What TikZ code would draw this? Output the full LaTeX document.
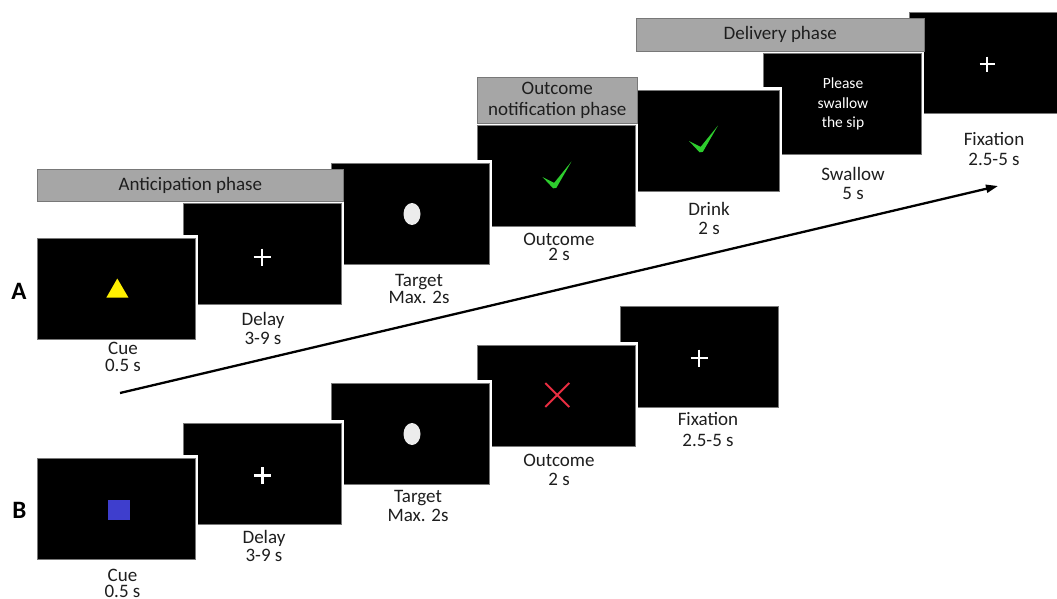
\documentclass[tikz,border=0pt]{standalone}
\usepackage{fontspec}
\setmainfont{Carlito}
\usetikzlibrary{arrows.meta,calc}

\definecolor{bargray}{RGB}{166,166,166}
\definecolor{edgegray}{RGB}{120,120,120}
\definecolor{cueyellow}{RGB}{255,240,0}
\definecolor{cueblue}{RGB}{62,62,205}
\definecolor{hitgreen}{RGB}{45,205,45}
\definecolor{missred}{RGB}{232,45,65}
\definecolor{dotgray}{RGB}{236,236,236}
\definecolor{inkgray}{RGB}{30,30,30}

\begin{document}
\begin{tikzpicture}[x=1pt,y=-1pt,
  screen/.style={rectangle, anchor=north west, fill=black, draw=edgegray,
    line width=0.8pt, minimum width=158pt, minimum height=101pt, inner sep=0pt,
    preaction={draw=white, line width=6pt}},
  phasebar/.style={rectangle, anchor=north west, fill=bargray, draw=edgegray,
    line width=0.6pt, inner sep=0pt, align=center, text=inkgray,
    font=\fontsize{19}{21.5}\selectfont},
  % anchored at the baseline of the last line
  caption/.style={anchor=base, align=center, inner sep=0pt, text=inkgray,
    font=\fontsize{19}{#1}\selectfont},
  rowlabel/.style={inner sep=0pt, text=black, font=\fontsize{25}{25}\selectfont\bfseries},
  plus/.pic={\draw[white, line width=2.7pt] (-8.5,0) -- (8.5,0) (0,-8.5) -- (0,8.5);},
  smallplus/.pic={\draw[white, line width=2.5pt] (-7.5,0) -- (7.5,0) (0,-7.5) -- (0,7.5);},
  tick/.pic={\fill[hitgreen] (-12,-10.5) -- (-0.4,-4.6) -- (17,-26) -- (1.8,0.4)
    -- (-1.4,0.8) -- cycle;},
  miss/.pic={\draw[missred, line width=2pt] (-12,-12) -- (12,12) (-12,12) -- (12,-12);}
]
\clip (0,0) rectangle (1057,598);
\fill[white] (0,0) rectangle (1057,598);

% row A screens, back to front
\node[screen] (fixA) at (909,12) {};
\node[screen] (swallowA) at (763,53) {};
\node[screen] (drinkA) at (621,90) {};
\node[screen] (outA) at (477,125) {};
\node[screen] (tgtA) at (331,163) {};
\node[screen] (delA) at (183,203) {};
\node[screen] (cueA) at (37,238) {};

% row B screens, back to front
\node[screen] (fixB) at (620,306) {};
\node[screen] (outB) at (477,345) {};
\node[screen] (tgtB) at (331,383) {};
\node[screen] (delB) at (183,423) {};
\node[screen] (cueB) at (37,458) {};

% phase bars
\node[phasebar, minimum width=306pt, minimum height=32pt] (antBar) at (37,169) {Anticipation phase};
\node[phasebar, minimum width=160pt, minimum height=46pt] (outBar) at (477,77) {Outcome\\notification phase};
\node[phasebar, minimum width=288pt, minimum height=33pt] (delivBar) at (636,18) {Delivery phase};

% stimuli, row A
\fill[cueyellow] (117.3,278.5) -- (128.5,297.7) -- (106.3,297.7) -- cycle;
\pic at (262,257) {plus};
\fill[dotgray] (412,214) ellipse [x radius=8.5, y radius=11];
\pic at (554.5,187.5) {tick};
\pic at (701,151.5) {tick};
\node[text=white, align=center, inner sep=0pt, anchor=base,
  font=\fontsize{15.5}{19.5}\selectfont] (sipText) at (843,127.7) {Please\\swallow\\the sip};
\pic at (987,64) {smallplus};

% stimuli, row B
\fill[cueblue] (108,499.5) rectangle (130,519.5);
\pic at (262.3,475.7) {plus};
\fill[dotgray] (412,434) ellipse [x radius=8.5, y radius=11];
\pic at (557.3,395) {miss};
\pic at (699,358) {plus};

% captions, row A
\node[caption=17.5] (capCueA) at (123,371.5) {Cue\\0.5 s};
\node[caption=19] (capDelA) at (263,344) {Delay\\3-9 s};
\node[caption=17] (capTgtA) at (419,303) {Target\\Max. 2s};
\node[caption=15.5] (capOutA) at (559,260.5) {Outcome\\2 s};
\node[caption=19] (capDrink) at (709,234) {Drink\\2 s};
\node[caption=19] (capSwallow) at (853,199) {Swallow\\5 s};
\node[caption=20] (capFixA) at (994,165.7) {Fixation\\2.5-5 s};

% captions, row B
\node[caption=15.5] (capCueB) at (122.5,597.2) {Cue\\0.5 s};
\node[caption=18.4] (capDelB) at (264,561.7) {Delay\\3-9 s};
\node[caption=19.4] (capTgtB) at (418,521.7) {Target\\Max. 2s};
\node[caption=19] (capOutB) at (559,485.7) {Outcome\\2 s};
\node[caption=21] (capFixB) at (708,446.7) {Fixation\\2.5-5 s};

% time arrow
\coordinate (timeStart) at (120,393);
\coordinate (timeEnd) at (998,186);
\draw[line width=2.3pt, -{Triangle[length=12pt, width=8pt]}] (timeStart) -- (timeEnd);

% row labels
\node[rowlabel] (labA) at (19,291) {A};
\node[rowlabel] (labB) at (19.5,510.5) {B};
\end{tikzpicture}
\end{document}
